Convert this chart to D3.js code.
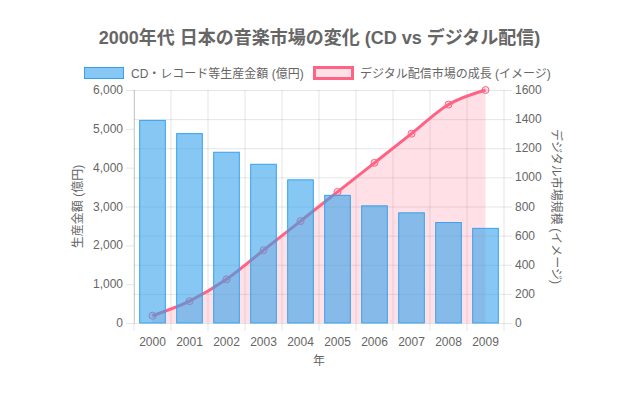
<!DOCTYPE html>
<html>
<head>
<meta charset="utf-8">
<script src="https://cdn.jsdelivr.net/npm/d3@7"></script>
<style>
  body { margin: 0; background: #fff; }
  svg text { font-family: "Helvetica Neue", Helvetica, Arial, "Noto Sans CJK JP", sans-serif; fill: #666; }
</style>
</head>
<body>
<div id="wrapper"></div>
<script>
// data
const years = ["2000", "2001", "2002", "2003", "2004", "2005", "2006", "2007", "2008", "2009"]
const cdSales = [5230, 4890, 4410, 4100, 3700, 3300, 3030, 2850, 2600, 2450]
const digitalGrowth = [50, 150, 300, 500, 700, 900, 1100, 1300, 1500, 1600]
const leftTicks = [0, 1000, 2000, 3000, 4000, 5000, 6000]
const rightTicks = [0, 200, 400, 600, 800, 1000, 1200, 1400, 1600]

function drawChart() {
    const width = 639
    const height = 398
    const plot = { left: 134, right: 504, top: 90, bottom: 323 }

    const svg = d3.select("#wrapper")
        .append("svg")
        .attr("width", width)
        .attr("height", height)

    //! scales
    const xScale = d3.scaleBand()
        .domain(years)
        .range([plot.left, plot.right])
        .paddingInner(0.28)
        .paddingOuter(0.14)
    const step = xScale.step()
    const yLeft = d3.scaleLinear().domain([0, 6000]).range([plot.bottom, plot.top])
    const yRight = d3.scaleLinear().domain([0, 1600]).range([plot.bottom, plot.top])
    const gridColor = "rgba(0,0,0,0.1)"

    //! grid
    const grid = svg.append("g")
    // vertical lines between categories (plus tick below the axis)
    const edges = years.map(y => xScale(y) - xScale.bandwidth() * 0.14 / 0.72)
    edges.push(plot.right)
    grid.selectAll(".vgrid")
        .data(edges)
        .join("line")
        .attr("x1", d => d).attr("x2", d => d)
        .attr("y1", plot.top).attr("y2", plot.bottom + 8)
        .attr("stroke", gridColor)
    // horizontal lines from the right axis
    grid.selectAll(".hgrid")
        .data(rightTicks)
        .join("line")
        .attr("x1", plot.left).attr("x2", plot.right + 8)
        .attr("y1", d => yRight(d) + 0.5).attr("y2", d => yRight(d) + 0.5)
        .attr("stroke", gridColor)
    // left axis tick marks only
    grid.selectAll(".lticks")
        .data(leftTicks)
        .join("line")
        .attr("x1", plot.left - 8).attr("x2", plot.left)
        .attr("y1", d => yLeft(d) + 0.5).attr("y2", d => yLeft(d) + 0.5)
        .attr("stroke", gridColor)
    grid.append("line")
        .attr("x1", plot.left + 0.5).attr("x2", plot.left + 0.5)
        .attr("y1", plot.top).attr("y2", plot.bottom)
        .attr("stroke", "rgba(0,0,0,0.15)")

    //! digital area + line (drawn under the bars)
    const cx = (d, i) => xScale(years[i]) + xScale.bandwidth() / 2
    const area = d3.area()
        .x(cx)
        .y0(plot.bottom)
        .y1(d => yRight(d))
        .curve(d3.curveMonotoneX)
    const line = d3.line()
        .x(cx)
        .y(d => yRight(d))
        .curve(d3.curveMonotoneX)

    svg.append("path")
        .datum(digitalGrowth)
        .attr("d", area)
        .attr("fill", "rgba(255,99,132,0.2)")
    svg.append("path")
        .datum(digitalGrowth)
        .attr("d", line)
        .attr("fill", "none")
        .attr("stroke", "rgb(255,99,132)")
        .attr("stroke-width", 3)
    svg.selectAll(".pt")
        .data(digitalGrowth)
        .join("circle")
        .attr("cx", cx)
        .attr("cy", d => yRight(d))
        .attr("r", 3.5)
        .attr("fill", "rgba(255,99,132,0.2)")
        .attr("stroke", "rgb(255,99,132)")
        .attr("stroke-width", 1)

    //! bars
    svg.selectAll(".bar")
        .data(cdSales)
        .join("rect")
        .attr("x", (d, i) => xScale(years[i]) + 0.5)
        .attr("y", d => yLeft(d) + 0.5)
        .attr("width", xScale.bandwidth() - 1)
        .attr("height", d => plot.bottom - yLeft(d) - 0.5)
        .attr("fill", "rgba(54,162,235,0.6)")
        .attr("stroke", "rgb(54,162,235)")
        .attr("stroke-width", 1)

    //! axis labels
    svg.selectAll(".lt")
        .data(leftTicks)
        .join("text")
        .attr("x", plot.left - 11)
        .attr("y", d => yLeft(d) + 4)
        .attr("text-anchor", "end")
        .style("font-size", "12px")
        .text(d => d3.format(",")(d))
    svg.selectAll(".rt")
        .data(rightTicks)
        .join("text")
        .attr("x", plot.right + 11)
        .attr("y", d => yRight(d) + 4)
        .style("font-size", "12px")
        .text(d => d)
    svg.selectAll(".xt")
        .data(years)
        .join("text")
        .attr("x", d => xScale(d) + xScale.bandwidth() / 2)
        .attr("y", 346)
        .attr("text-anchor", "middle")
        .style("font-size", "12px")
        .text(d => d)

    svg.append("text")
        .attr("x", (plot.left + plot.right) / 2)
        .attr("y", 365)
        .attr("text-anchor", "middle")
        .style("font-size", "12px")
        .text("年")
    svg.append("text")
        .attr("transform", `translate(82, ${(plot.top + plot.bottom) / 2}) rotate(-90)`)
        .attr("text-anchor", "middle")
        .style("font-size", "12px")
        .text("生産金額 (億円)")
    svg.append("text")
        .attr("transform", `translate(552, ${(plot.top + plot.bottom) / 2}) rotate(90)`)
        .attr("text-anchor", "middle")
        .style("font-size", "12px")
        .text("デジタル市場規模 (イメージ)")

    //! title
    svg.append("text")
        .attr("x", width / 2)
        .attr("y", 44)
        .attr("text-anchor", "middle")
        .style("font-size", "18px")
        .style("font-weight", "bold")
        .text("2000年代 日本の音楽市場の変化 (CD vs デジタル配信)")

    //! legend
    const legend = svg.append("g")
    legend.append("rect")
        .attr("x", 84.5).attr("y", 67.5).attr("width", 39).attr("height", 11)
        .attr("fill", "rgba(54,162,235,0.6)")
        .attr("stroke", "rgb(54,162,235)")
    legend.append("text")
        .attr("x", 131).attr("y", 78)
        .style("font-size", "12px")
        .text("CD・レコード等生産金額 (億円)")
    legend.append("rect")
        .attr("x", 314.5).attr("y", 67.5).attr("width", 38).attr("height", 11)
        .attr("fill", "rgba(255,99,132,0.2)")
        .attr("stroke", "rgb(255,99,132)")
        .attr("stroke-width", 3)
    legend.append("text")
        .attr("x", 360).attr("y", 78)
        .style("font-size", "12px")
        .text("デジタル配信市場の成長 (イメージ)")
}

drawChart()
</script>
</body>
</html>
